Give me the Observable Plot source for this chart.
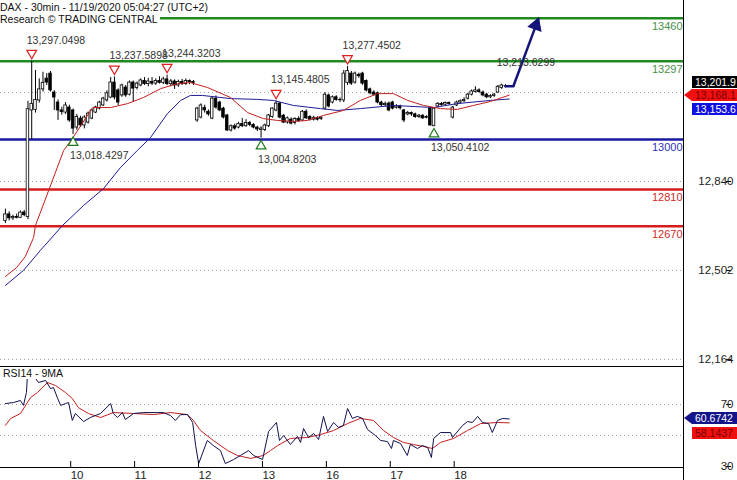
<!DOCTYPE html>
<html><head><meta charset="utf-8">
<script src="https://cdn.jsdelivr.net/npm/d3@7"></script>
<script src="https://cdn.jsdelivr.net/npm/@observablehq/plot@0.6"></script>
<style>
body{margin:0;background:#fff;}
#wrap{position:relative;width:737px;height:480px;overflow:hidden;font-family:"Liberation Sans",Arial,sans-serif;background:#fff;}
#wrap svg{position:absolute;left:0;}
.lbl{position:absolute;background:#fff;font-size:10.5px;line-height:12px;color:#111;white-space:nowrap;padding-right:2px;}
.tag{position:absolute;left:692px;width:50px;height:12px;font-size:10.5px;line-height:12px;padding-left:3px;white-space:nowrap;overflow:hidden;}
.tip{position:absolute;width:0;height:0;border-top:6px solid transparent;border-bottom:6px solid transparent;}
</style></head><body><div id="wrap"></div>
<script>
// ---------- data ----------
// candles: [open, high, low, close], 30-min bars, 17 per session (Nov 9 .. Nov 18)
const candles = [
[12690,12735,12680,12715],[12715,12725,12690,12700],[12700,12712,12692,12705],[12705,12716,12698,12702],
[12702,12728,12700,12722],[12722,12730,12706,12712],[12705,13145,12695,13115],[13110,13297.05,13000,13135],
[13112,13262,13100,13150],[13148,13230,13138,13190],[13190,13255,13180,13215],[13231,13250,13205,13216],
[13250,13258,13180,13186],[13178,13185,13110,13159],[13140,13150,13072,13110],[13110,13122,13092,13104],
[13102,13140,13095,13129],
[13121,13130,13065,13072],[13110,13115,13018.43,13041],[13045,13095,13035,13085],[13079,13088,13045,13053],
[13053,13090,13040,13083],[13064,13104,13058,13098],[13079,13115,13075,13110],[13102,13126,13098,13121],
[13117,13145,13112,13140],[13129,13160,13125,13155],[13148,13185,13142,13175],[13159,13235,13155,13216],
[13216,13237.59,13150,13159],[13186,13192,13129,13140],[13167,13210,13160,13205],[13197,13205,13160,13167],
[13170,13222,13165,13216],
[13216,13222,13140,13193],[13195,13218,13188,13212],[13205,13230,13200,13224],[13222,13235,13205,13210],
[13210,13232,13200,13220],[13218,13235,13205,13212],[13212,13230,13205,13222],[13222,13238,13210,13215],
[13215,13236,13208,13228],[13228,13244.32,13205,13210],[13210,13228,13200,13220],[13220,13226,13190,13205],
[13205,13225,13198,13218],[13218,13228,13205,13210],[13210,13230,13205,13222],[13222,13226,13208,13218],
[13218,13224,13205,13214],
[13072,13122,13065,13117],[13083,13135,13078,13129],[13120,13130,13100,13110],[13105,13112,13088,13095],
[13079,13160,13075,13155],[13155,13165,13115,13121],[13140,13145,13105,13110],[13117,13122,13078,13083],
[13091,13095,13030,13034],[13034,13055,13028,13050],[13050,13058,13035,13041],[13045,13065,13040,13058],
[13058,13079,13045,13050],[13050,13075,13046,13062],[13062,13068,13048,13055],[13055,13060,13040,13045],
[13045,13050,13030,13038],
[13036,13048,13004.82,13041],[13036,13058,13030,13053],[13050,13095,13045,13091],[13085,13120,13080,13117],
[13110,13145.48,13105,13136],[13136,13140,13078,13083],[13090,13095,13060,13064],[13064,13085,13058,13080],
[13075,13082,13055,13060],[13062,13082,13055,13078],[13078,13086,13065,13070],[13072,13110,13068,13105],
[13105,13112,13076,13080],[13085,13090,13070,13075],[13075,13088,13070,13082],[13080,13086,13070,13075],
[13078,13086,13072,13082],
[13117,13178,13112,13170],[13167,13172,13120,13125],[13140,13165,13135,13160],[13160,13166,13145,13150],
[13150,13158,13140,13149],[13148,13262,13140,13250],[13215,13277.45,13205,13260],[13250,13258,13205,13212],
[13216,13256,13210,13250],[13245,13252,13232,13240],[13250,13255,13205,13212],[13222,13226,13180,13186],
[13190,13195,13170,13175],[13178,13185,13165,13170],[13175,13180,13135,13140],[13140,13145,13125,13130],
[13130,13142,13125,13135],
[13136,13142,13105,13110],[13140,13145,13112,13117],[13120,13132,13115,13125],[13125,13130,13112,13118],
[13110,13114,13064,13072],[13095,13106,13090,13100],[13100,13104,13088,13095],[13095,13100,13080,13085],
[13085,13095,13080,13090],[13090,13094,13076,13080],[13082,13090,13078,13085],[13117,13122,13050,13053],
[13050,13120,13050.41,13117],[13125,13140,13120,13135],[13135,13140,13126,13130],[13132,13142,13128,13138],
[13138,13142,13130,13135],
[13083,13125,13078,13121],[13129,13145,13125,13140],[13140,13150,13135,13145],[13145,13158,13140,13150],
[13155,13175,13150,13170],[13170,13188,13165,13182],[13180,13200,13176,13186],[13186,13192,13175,13180],
[13178,13184,13162,13167],[13170,13175,13155,13160],[13160,13170,13155,13165],[13165,13175,13160,13170],
[13178,13205,13175,13200],[13195,13210,13190,13205],[13202,13208,13196,13201.9]
];
// moving averages: [bar index, value]
const redMA = [[0,12479],[3,12513],[5.3,12555],[7.5,12627],[8,12673],[11.7,12813],[15.5,12958],[17.8,13003],
[23.2,13121],[25.3,13121],[28,13121],[32.5,13136],[36.7,13159],[41.3,13193],[45.8,13212],[49.2,13216],
[53.8,13197],[59.9,13159],[64.4,13102],[68.6,13079],[72.4,13072],[76.6,13068],[80.3,13072],[84.6,13091],
[89.9,13110],[94.4,13148],[99,13174],[103.2,13174],[107,13148],[111.2,13129],[115.7,13117],[120.2,13114],
[124.5,13129],[129,13144],[134,13168.1]];
const blueMA = [[0,12445],[4.8,12502],[9.3,12578],[15.2,12673],[20.8,12749],[26.1,12813],[30.6,12893],
[35.1,12958],[38.6,13007],[43.1,13098],[46.6,13148],[49.2,13167],[52.4,13167],[59.9,13155],[67,13152],
[71.3,13148],[76.6,13129],[83.8,13117],[88.3,13110],[94.4,13117],[103.2,13129],[113.9,13121],[120.2,13136],
[129,13148],[134,13153.6]];
// RSI(14) and its 9-period MA: [bar index, value]
const rsi14 = [[0,70.6],[2.2,71.3],[4,72.6],[4.8,69.4],[5.6,77.7],[5.9,90.6],[7.5,88.7],[8.8,84.2],[10.7,85.5],
[12,80.3],[12.8,80.9],[13.9,73.9],[14.7,69.4],[16,70.6],[16.8,71.3],[17.8,59.7],[18.6,64.2],[20.8,59],
[22.6,61.6],[25.3,64.2],[28,70.6],[28.7,64.2],[29.8,61.6],[31.1,64.8],[31.9,60.3],[34.1,64.2],[36.7,64.8],
[40.5,64.8],[42,64.8],[43.9,62.9],[45.2,59.7],[46.6,63.5],[48.4,63.5],[49.8,58.4],[50.6,43.5],[51.4,31.9],
[53.7,46.8],[55.3,43.5],[57.2,40.3],[58.5,31.9],[60.7,34.5],[62.5,37.1],[64.7,40.3],[66,37.1],[68.4,34.5],
[70,52.6],[72.1,58.4],[72.9,46.8],[74,50],[75.8,44.2],[77.7,49.4],[78.5,45.5],[79.3,54.5],[80.6,48.7],
[82,51.3],[83.3,47.4],[84.6,62.3],[85.7,52.6],[87.3,58.4],[88.6,55.2],[89.9,56.5],[91,67.4],[92.3,61],
[93.6,62.3],[95,61],[96.3,53.9],[98.4,50],[99.8,46.8],[101.6,46.1],[102.7,41.6],[103.2,46.8],[105.1,44.8],
[106.9,37.1],[107.7,44.2],[109.6,41.6],[110.9,43.5],[112.3,42.3],[113.3,35.8],[113.9,48.1],[115.7,51.9],
[118.4,51.9],[118.9,48.7],[121.6,56.5],[122.9,59],[124.2,58.4],[125.6,62.3],[126.9,58.4],[128.5,57.7],
[129.5,51.9],[130.9,59.7],[132.2,61],[134,60.6742]];
const rsiMA9 = [[0,56.5],[1.4,61],[4,64.2],[6.7,74.5],[8.5,77.7],[11.2,84.2],[13.3,82.3],[16,77.7],[17.8,73.9],
[19.4,68],[22.1,64.2],[25.3,61.6],[28.7,64.8],[34.1,64.2],[39.4,63.5],[43.9,64.8],[48.4,63.5],[50,59.7],
[51.9,53.2],[55.3,46.8],[59.1,40.3],[61.7,37.1],[65.2,35.2],[68.6,37.1],[70.5,40.3],[72.4,43.5],[75.8,48.1],
[80.3,48.7],[83.8,50.6],[87.3,53.2],[91,57.7],[94.4,61],[97.9,59.7],[100.6,53.2],[103.2,48.7],[105.9,45.5],
[108.5,44.2],[111.2,42.9],[113.6,41.6],[115.7,45.5],[119.2,48.1],[122.9,53.2],[126.4,57.7],[130.9,58.4],
[134,58.1437]];
const dayStartIdx = [17,34,51,68,85,102,119];
const dayLabels = ["10","11","12","13","16","17","18"];
const levelsGreen = [13460,13297];
const levelsBlue = [13000];
const levelsRed = [12810,12670];
const priceTicks = [12164,12502,12840];
const priceGrid = [12164,12502,12840,13178];
const rsiTicks = [30,70];
const rsiGrid = [50,70];
const peakIdx = [7,29,43,72,91];
const peakVal = [13297.0498,13237.5898,13244.3203,13145.4805,13277.4502];
const troughIdx = [18,68,114];
const troughVal = [13018.4297,13004.8203,13050.4102];
const targetIdx = [132];
const targetVal = [13213.6299];
const arrowIdx = [133,135.1,141.8];
const arrowVal = [13201.9,13201.9,13460];
const lastPrice = 13201.9, lastRed = 13168.1, lastBlue = 13153.6;
const lastRsi = 60.6742, lastRsiMA = 58.1437;
const titleText = "DAX - 30min - 11/19/2020 05:04:27 (UTC+2)";
const subtitleText = "Research © TRADING CENTRAL";
const rsiLabel = "RSI14 - 9MA";

// ---------- drawing ----------
const wrap = document.getElementById("wrap");
const font = "'Liberation Sans', Arial, sans-serif";
const xDomain = [-1.303, 180.35];
const mainDomain = [12133.2, 13527.8];
const rsiDomain = [29.35, 94.52];
const fmt4 = d3.format(",.4f");
const peaks = peakIdx.map((i,k)=>({i, v:peakVal[k]}));
const troughs = troughIdx.map((i,k)=>({i, v:troughVal[k]}));
const targets = targetIdx.map((i,k)=>({i, v:targetVal[k]}));
const arrowPts = arrowIdx.map((i,k)=>({i, v:arrowVal[k]}));
const navy = "#14147a";

const main = Plot.plot({
  width:737, height:367, marginTop:0, marginBottom:0, marginLeft:0, marginRight:54,
  x:{domain:xDomain, axis:null},
  y:{domain:mainDomain, axis:null},
  style:{fontFamily:font, fontSize:"10.5px", background:"transparent", overflow:"visible"},
  marks:[
    Plot.ruleY(priceGrid,{stroke:"#a0a0a0", strokeDasharray:"1,3"}),
    Plot.ruleY(levelsGreen,{stroke:"#1f8a1f", strokeWidth:2.5}),
    Plot.ruleY(levelsBlue,{stroke:"#1818a0", strokeWidth:2.5}),
    Plot.ruleY(levelsRed,{stroke:"#d81c1c", strokeWidth:2.5}),
    Plot.text(levelsGreen,{y:d=>d, text:d=>String(d), frameAnchor:"right", textAnchor:"end", dx:-1, dy:8, fill:"#4a8f4a", fontSize:11}),
    Plot.text(levelsBlue,{y:d=>d, text:d=>String(d), frameAnchor:"right", textAnchor:"end", dx:-1, dy:8, fill:"#3030c0", fontSize:11}),
    Plot.text(levelsRed,{y:d=>d, text:d=>String(d), frameAnchor:"right", textAnchor:"end", dx:-1, dy:8, fill:"#d02828", fontSize:11}),
    Plot.ruleX(candles,{x:(d,i)=>i, y1:d=>d[2], y2:d=>d[1], stroke:"#000", strokeWidth:1}),
    Plot.rect(candles,{x1:(d,i)=>i-0.34, x2:(d,i)=>i+0.34, y1:d=>d[0], y2:d=>d[3],
      fill:d=>d[3]>=d[0]?"#ffffff":"#000000", stroke:"#000", strokeWidth:0.8}),
    Plot.line(blueMA,{x:d=>d[0], y:d=>d[1], stroke:"#1c1c96", strokeWidth:1}),
    Plot.line(redMA,{x:d=>d[0], y:d=>d[1], stroke:"#c41e1e", strokeWidth:1}),
    Plot.line(arrowPts.slice(0,2),{x:"i", y:"v", stroke:navy, strokeWidth:2.5}),
    Plot.link(arrowPts.slice(1,2),{x1:"i", y1:"v", x2:()=>arrowPts[2].i, y2:()=>arrowPts[2].v,
      stroke:navy, strokeWidth:2.5}),
    Plot.dot(arrowPts.slice(2),{x:"i", y:"v", symbol:"triangle", r:5, rotate:20, dx:-2.6, dy:7, fill:navy, stroke:navy, strokeWidth:1}),
    Plot.dot(peaks,{x:"i", y:"v", symbol:"triangle", rotate:180, r:3.6, dy:-8, stroke:"#e02020", fill:"#fff", strokeWidth:1.2}),
    Plot.dot(troughs,{x:"i", y:"v", symbol:"triangle", r:3.6, dy:8, stroke:"#1e7a1e", fill:"#fff", strokeWidth:1.2}),
    Plot.text(peaks,{x:"i", y:"v", text:d=>fmt4(d.v), dy:-21, dx:-5, textAnchor:"start", fill:"#333"}),
    Plot.text(targets,{x:"i", y:"v", text:d=>fmt4(d.v), dy:-21, dx:-5, textAnchor:"start", fill:"#333"}),
    Plot.text(troughs,{x:"i", y:"v", text:d=>fmt4(d.v), dy:21, dx:-3, textAnchor:"start", fill:"#333"}),
    Plot.axisY(priceTicks,{anchor:"right", label:null, tickSize:5, tickPadding:3, textAnchor:"end", dx:42,
      tickFormat:d3.format(","), stroke:"#000", fill:"#222", fontSize:11.5})
  ]
});
main.style.top = "0px";
wrap.appendChild(main);

const dayMap = new Map(dayStartIdx.map((d,k)=>[d-0.3, dayLabels[k]]));
const rsiPlot = Plot.plot({
  width:737, height:114, marginTop:0, marginBottom:13, marginLeft:0, marginRight:54,
  x:{domain:xDomain, axis:null},
  y:{domain:rsiDomain, axis:null},
  style:{fontFamily:font, fontSize:"10.5px", background:"transparent", overflow:"visible"},
  marks:[
    Plot.ruleY(rsiGrid,{stroke:"#a0a0a0", strokeDasharray:"1,3"}),
    Plot.ruleY(rsiDomain,{stroke:"#000"}),
    Plot.line(rsiMA9,{x:d=>d[0], y:d=>d[1], stroke:"#c41e1e", strokeWidth:1}),
    Plot.line(rsi14,{x:d=>d[0], y:d=>d[1], stroke:"#101050", strokeWidth:1}),
    Plot.axisY(rsiTicks,{anchor:"right", label:null, tickSize:5, tickPadding:3, textAnchor:"end", dx:42, stroke:"#000", fill:"#222", fontSize:11.5}),
    Plot.axisX([...dayMap.keys()],{anchor:"bottom", label:null, tickSize:6, tickPadding:3, tickFormat:d=>dayMap.get(d),
      textAnchor:"start", dx:2.5, dy:-6, stroke:"#000", fill:"#222", fontSize:11.5})
  ]
});
rsiPlot.style.top = "366px";
wrap.appendChild(rsiPlot);

// vertical price-axis line
const axisLine = document.createElement("div");
axisLine.style.cssText = "position:absolute;left:683px;top:0;width:1px;height:480px;background:#000";
wrap.appendChild(axisLine);

// titles
function label(text, left, top){
  const d = document.createElement("div");
  d.className = "lbl"; d.textContent = text;
  d.style.left = left+"px"; d.style.top = top+"px";
  wrap.appendChild(d);
}
label(titleText, 0, 1);
label(subtitleText, 0, 13);
const rl = document.createElement("div");
rl.className = "lbl"; rl.textContent = rsiLabel;
rl.style.left = "3px"; rl.style.top = "367px";
wrap.appendChild(rl);

// value tags on the price axis
function tag(centerY, text, bg, color, arrow){
  const d = document.createElement("div");
  d.className = "tag"; d.textContent = text;
  d.style.top = (centerY-6)+"px"; d.style.background = bg; d.style.color = color;
  wrap.appendChild(d);
  if (arrow){
    const t = document.createElement("div");
    t.className = "tip";
    t.style.left = "684px"; t.style.top = (centerY-6)+"px";
    t.style.borderRight = "8px solid "+bg;
    wrap.appendChild(t);
  }
}
const ys = main.scale("y"), yr = rsiPlot.scale("y");
const f1 = d3.format(",.1f");
const redC = ys.apply(lastRed);
tag(redC-13, f1(lastPrice), "#000", "#fff", false);
tag(redC, f1(lastRed), "#f01010", "#7a0000", true);
tag(redC+14, f1(lastBlue), "#1010e0", "#fff", false);
const rsiC = 366 + yr.apply(lastRsi);
tag(rsiC, d3.format(".4f")(lastRsi), "#14148a", "#fff", true);
tag(rsiC+15, d3.format(".4f")(lastRsiMA), "#f01010", "#7a0000", false);
</script></body></html>
